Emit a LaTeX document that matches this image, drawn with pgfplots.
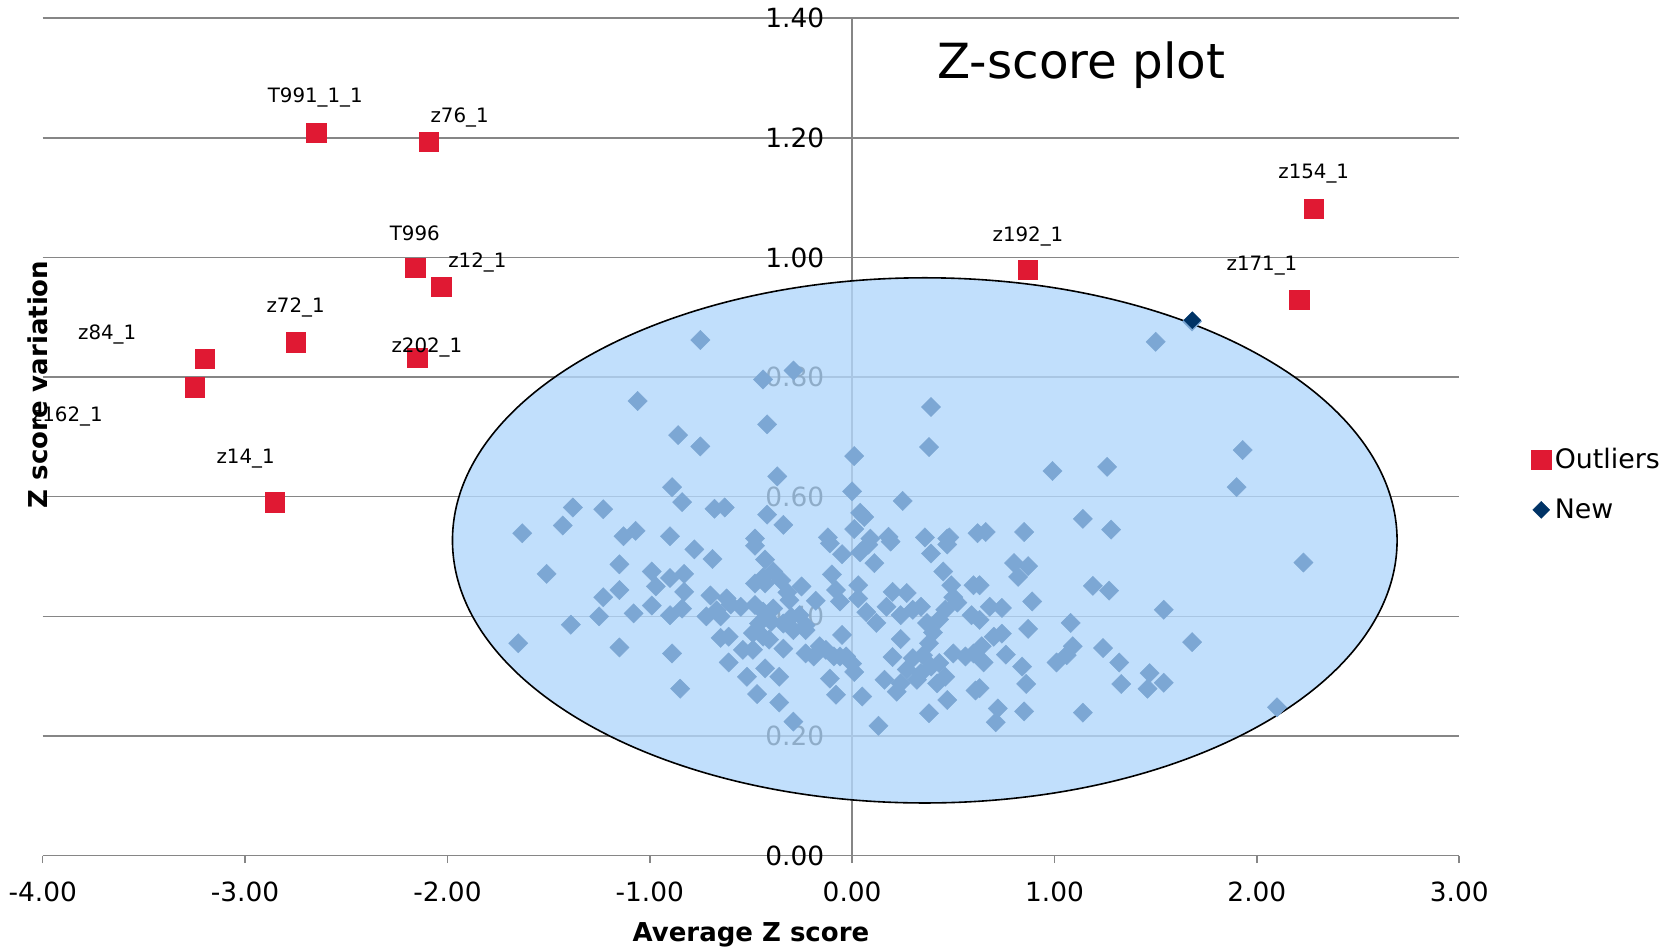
\documentclass[border=0pt]{standalone}
\usepackage{fontspec}
\setmainfont{DejaVu Sans}
\usepackage{pgfplots}
\pgfplotsset{compat=1.18}
\definecolor{gridgray}{RGB}{134,134,134}
\definecolor{ptblue}{RGB}{124,167,212}
\definecolor{outred}{RGB}{224,25,51}
\definecolor{newnavy}{RGB}{0,51,102}
\definecolor{ellfill}{RGB}{178,215,251}
\begin{document}
\begin{tikzpicture}
\begin{axis}[
  at={(0,0)}, anchor=south west,
  scale only axis, width=708.25pt, height=418.7pt,
  xmin=-4, xmax=3, ymin=0, ymax=1.4,
  set layers,
  clip=false,
  axis lines=middle,
  axis line style={-, draw=gridgray, line width=0.75pt},
  every inner x axis line/.append style={-},
  every inner y axis line/.append style={-},
  xtick={-4,-3,-2,-1,0,1,2,3},
  xticklabels={-4.00,-3.00,-2.00,-1.00,0.00,1.00,2.00,3.00},
  ytick={0,0.2,0.4,0.6,0.8,1.0,1.2,1.4},
  yticklabels={0.00,0.20,0.40,0.60,0.80,1.00,1.20,1.40},
  extra x ticks={0}, extra x tick labels={0.00},
  extra y ticks={0}, extra y tick labels={0.00},
  tick label style={font=\fontsize{13.2}{15}\selectfont, text=black},
  xticklabel style={anchor=north, inner sep=0pt, yshift=-9pt},
  yticklabel style={anchor=east, inner sep=0pt, xshift=-10pt},
  tick align=outside, major tick length=3.8pt,
  xtick style={draw=gridgray, line width=0.75pt},
  ytick style={draw=none},
  extra x tick style={xtick style={draw=gridgray, line width=0.75pt}},
  extra y tick style={ytick style={draw=none}},
  ymajorgrids,
  major grid style={draw=gridgray, line width=0.75pt},
  xlabel={Average Z score},
  ylabel={Z score variation},
  every axis x label/.style={at={(rel axis cs:0.5,0)}, anchor=center, yshift=-39.5pt, font=\bfseries\fontsize{13}{15}\selectfont},
  every axis y label/.style={at={(rel axis cs:-0.0033,0.5626)}, anchor=center, rotate=90, font=\bfseries\fontsize{13}{15}\selectfont},
  title={Z-score plot},
  every axis title/.style={at={(rel axis cs:0.7334,0.9282)}, anchor=base, font=\fontsize{24.2}{28}\selectfont},
  legend style={at={(rel axis cs:1,0.443)}, anchor=west, xshift=33pt, draw=none, fill=none, font=\fontsize{13.4}{15}\selectfont, row sep=9.5pt},
  legend cell align=left,
  legend image code/.code={\draw[mark repeat=2,mark phase=2,#1] plot coordinates {(0cm,0cm)(0.15cm,0cm)(0.3cm,0cm)};},
]
\draw[draw=black, line width=0.8pt, fill=ellfill, fill opacity=0.8] (axis cs:0.359,0.527) ellipse [x radius=2.334, y radius=0.439];

\addplot[forget plot, only marks, mark=square*, mark size=3.4pt,
  mark options={rotate=45, fill=ptblue, draw=ptblue, line width=0.2pt}]
  table[x=x, y=y] {
x y
-0.75 0.862
1.68 0.893
1.50 0.859
-0.44 0.796
-0.29 0.811
-0.42 0.721
0.39 0.750
0.38 0.683
0.01 0.668
-0.37 0.634
0.00 0.609
0.25 0.593
-0.42 0.570
-0.34 0.553
0.04 0.573
0.06 0.566
0.01 0.546
-1.06 0.760
-0.86 0.703
-0.75 0.684
-0.89 0.616
-0.84 0.591
-0.68 0.580
-0.63 0.582
-1.38 0.582
-1.23 0.579
-1.63 0.539
-1.43 0.552
-1.07 0.543
-1.13 0.534
-0.90 0.534
0.99 0.643
1.26 0.650
1.14 0.563
1.28 0.545
0.66 0.541
0.85 0.541
1.93 0.678
1.90 0.616
2.23 0.490
2.10 0.248
1.68 0.357
1.54 0.411
0.80 0.489
0.87 0.484
0.82 0.466
0.63 0.452
0.89 0.425
0.68 0.416
0.74 0.414
0.63 0.394
0.87 0.379
1.08 0.389
1.19 0.451
1.27 0.443
0.70 0.366
0.74 0.371
0.64 0.350
0.76 0.336
0.65 0.323
0.84 0.316
0.63 0.280
0.86 0.287
1.01 0.323
1.06 0.335
1.09 0.350
1.24 0.347
1.32 0.323
1.33 0.287
1.47 0.305
1.46 0.279
1.54 0.289
0.72 0.246
0.71 0.223
0.85 0.241
1.14 0.239
-1.51 0.471
-1.15 0.487
-0.78 0.512
-0.69 0.496
-0.99 0.475
-0.90 0.464
-0.83 0.471
-0.97 0.450
-0.83 0.441
-1.15 0.444
-1.23 0.432
-1.25 0.400
-1.39 0.386
-1.08 0.405
-0.99 0.418
-0.90 0.402
-0.84 0.413
-0.70 0.435
-0.62 0.430
-0.67 0.410
-0.72 0.400
-0.65 0.400
-0.60 0.420
-1.65 0.355
-1.15 0.348
-0.89 0.338
-0.65 0.364
-0.61 0.366
-0.61 0.323
-0.85 0.279
-0.48 0.518
-0.43 0.495
-0.39 0.475
-0.35 0.460
-0.44 0.465
-0.48 0.455
-0.43 0.455
-0.11 0.522
-0.05 0.504
0.08 0.520
0.04 0.507
0.11 0.489
0.19 0.525
0.39 0.505
0.47 0.520
0.45 0.475
0.49 0.452
0.60 0.452
-0.10 0.470
-0.25 0.450
-0.32 0.440
-0.08 0.444
-0.06 0.425
-0.18 0.426
0.03 0.452
0.03 0.430
0.20 0.441
0.27 0.439
0.07 0.407
0.12 0.389
0.17 0.416
0.24 0.402
0.30 0.411
0.34 0.416
0.37 0.389
0.40 0.373
0.43 0.395
0.46 0.411
0.50 0.432
0.52 0.423
0.38 0.355
0.24 0.362
0.20 0.332
0.30 0.330
0.35 0.335
0.39 0.316
0.43 0.322
0.46 0.299
0.34 0.305
0.32 0.294
0.27 0.311
0.24 0.288
0.22 0.274
0.42 0.288
0.16 0.294
0.47 0.260
0.38 0.238
0.13 0.217
0.05 0.266
0.00 0.321
0.01 0.307
-0.03 0.333
-0.11 0.296
-0.08 0.269
-0.16 0.350
-0.13 0.344
-0.09 0.333
-0.06 0.333
-0.23 0.338
-0.19 0.333
-0.34 0.346
-0.05 0.369
-0.43 0.313
-0.36 0.299
-0.52 0.299
-0.47 0.270
-0.36 0.256
-0.29 0.224
-0.49 0.372
-0.44 0.366
-0.41 0.361
-0.46 0.388
-0.40 0.391
-0.34 0.388
-0.29 0.377
-0.23 0.377
-0.54 0.344
-0.49 0.344
-0.55 0.416
-0.48 0.419
-0.44 0.408
-0.39 0.413
-0.31 0.427
-0.30 0.399
-0.23 0.385
-0.26 0.402
0.59 0.402
0.60 0.338
0.61 0.276
0.50 0.338
0.56 0.333
0.36 0.532
0.47 0.530
0.48 0.532
0.62 0.539
-0.48 0.530
-0.12 0.532
0.09 0.530
0.18 0.533
};

\addplot[only marks, mark=square*, mark size=4.8pt,
  mark options={fill=outred, draw=outred, line width=0.3pt},
  nodes near coords, point meta=explicit symbolic,
  visualization depends on={value \thisrow{dx} \as \dx},
  visualization depends on={value \thisrow{dy} \as \dy},
  every node near coord/.append style={anchor=center, xshift=\dx pt, yshift=\dy pt, font=\fontsize{9.9}{12}\selectfont, text=black, inner sep=0pt}]
  table[x=x, y=y, meta=label] {
x y label dx dy
-2.648 1.209 T991\_1\_1 -0.5 17.5
-2.093 1.194 z76\_1 15.5 12.2
-2.159 0.983 T996 -0.2 17.3
-2.030 0.951 z12\_1 18 12.2
-2.750 0.858 z72\_1 0 17.3
-3.200 0.830 z84\_1 -48.7 12.2
-3.248 0.783 z162\_1 -63.8 -14.8
-2.149 0.8325 z202\_1 4.8 5.2
-2.852 0.5906 z14\_1 -14.7 22
2.281 1.081 z154\_1 0 17.5
0.869 0.979 z192\_1 0 17
2.210 0.929 z171\_1 -18.7 17
};
\addlegendentry{Outliers}

\addplot[only marks, mark=square*, mark size=3pt,
  mark options={rotate=45, fill=newnavy, draw=newnavy, line width=0.2pt}]
  coordinates {(1.681,0.895)};
\addlegendentry{New}
\end{axis}
\pgfresetboundingbox
\useasboundingbox (-21.35pt,-46.7pt) rectangle (816.15pt,427.8pt);
\end{tikzpicture}
\end{document}
